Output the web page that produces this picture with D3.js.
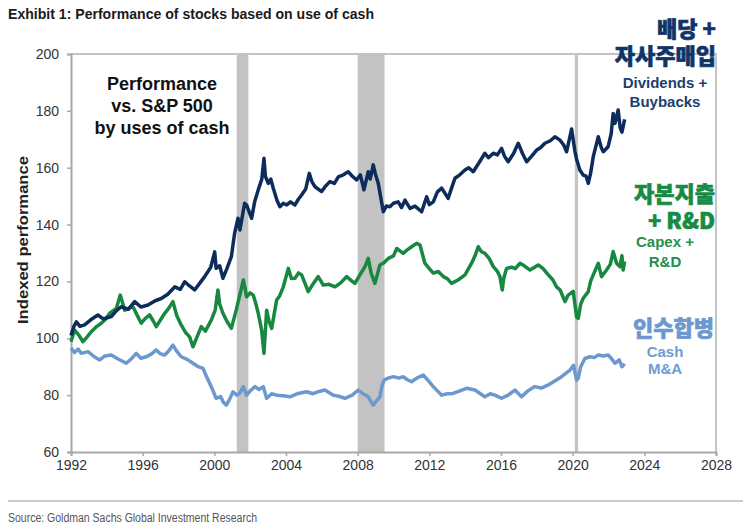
<!DOCTYPE html>
<html>
<head>
<meta charset="utf-8">
<script src="https://cdn.jsdelivr.net/npm/d3@7"></script>
<style>
  body { margin: 0; background: #fff; }
  svg { display: block; font-family: "Liberation Sans", Arial, sans-serif; }
</style>
</head>
<body>
<div id="chart"></div>
<script>
// Indexed performance vs. S&P 500 as [year, value]
const dividendsBuybacks = [
  [1992.0, 101], [1992.15, 104], [1992.3, 105.8], [1992.5, 104.2], [1992.76, 104.7], [1993.1, 106.5],
  [1993.5, 108.2], [1993.8, 106.8], [1994.25, 107.6], [1994.5, 109.5], [1994.8, 111.1], [1995.2, 110.2],
  [1995.55, 112.9], [1995.9, 111], [1996.3, 111.7], [1996.7, 113.2], [1997.04, 114.0], [1997.4, 115.5],
  [1997.8, 118.1], [1998.1, 117.2], [1998.35, 119.9], [1998.6, 118.5], [1998.9, 117.0], [1999.2, 119.5],
  [1999.46, 121.7], [1999.8, 125], [2000.02, 130.4], [2000.1, 124.6], [2000.3, 125.5], [2000.48, 121.1],
  [2000.7, 124.5], [2000.95, 128.7], [2001.13, 136.9], [2001.32, 142.2], [2001.43, 138.1], [2001.69, 147.5],
  [2001.8, 146.9], [2002.08, 142.2], [2002.25, 148], [2002.45, 152.2], [2002.65, 156], [2002.77, 163.3],
  [2002.85, 157], [2003.01, 154.5], [2003.15, 156], [2003.29, 152.8], [2003.5, 148.5], [2003.66, 146.3],
  [2003.85, 147.5], [2004.04, 146.9], [2004.25, 148], [2004.5, 146.9], [2004.7, 149], [2004.87, 150.4],
  [2005.1, 152.5], [2005.3, 158.0], [2005.45, 155], [2005.62, 153.3], [2005.99, 151.6], [2006.2, 153.5],
  [2006.45, 155.1], [2006.7, 154.5], [2006.92, 156.8], [2007.2, 157.5], [2007.47, 158.6], [2007.7, 157],
  [2007.94, 155.7], [2008.15, 157.5], [2008.35, 152.2], [2008.59, 158.6], [2008.7, 156], [2008.87, 161.0],
  [2009.0, 157.5], [2009.15, 154.5], [2009.43, 144.5], [2009.6, 146.5], [2009.8, 146.3], [2010.0, 147.5],
  [2010.26, 148.0], [2010.45, 146], [2010.64, 148.6], [2010.92, 145.7], [2011.2, 146.5], [2011.57, 144.5],
  [2011.85, 149.8], [2012.0, 147], [2012.22, 148.0], [2012.45, 151.5], [2012.69, 152.8], [2013.05, 149.2],
  [2013.25, 153], [2013.43, 156.3], [2013.7, 157.5], [2013.99, 159.2], [2014.2, 160], [2014.45, 158.6],
  [2014.8, 162], [2015.1, 165.1], [2015.3, 163.5], [2015.57, 165.1], [2015.8, 164.5], [2016.03, 166.8],
  [2016.2, 164], [2016.4, 162.1], [2016.7, 165], [2016.96, 168.6], [2017.2, 165], [2017.43, 162.1],
  [2017.7, 164], [2017.99, 166.2], [2018.2, 167], [2018.45, 168.6], [2018.75, 169.5], [2019.01, 170.9],
  [2019.29, 169.7], [2019.5, 168], [2019.66, 165.6], [2019.94, 173.6], [2020.13, 165.6], [2020.22, 163],
  [2020.4, 159.2], [2020.59, 157.4], [2020.75, 157], [2020.87, 154.5], [2021.0, 158], [2021.15, 163.9],
  [2021.43, 170.9], [2021.6, 167], [2021.71, 165.6], [2021.98, 167.4], [2022.15, 172], [2022.26, 179.1],
  [2022.36, 175.6], [2022.54, 180.3], [2022.65, 174], [2022.75, 172.5], [2022.9, 177]
];

const capexRnd = [
  [1992.0, 98.8], [1992.2, 102.9], [1992.45, 101], [1992.67, 98.8], [1992.9, 100.5], [1993.13, 102.3],
  [1993.4, 104], [1993.69, 105.3], [1993.9, 106.5], [1994.16, 108.8], [1994.53, 110.5], [1994.75, 115.2],
  [1995.0, 109.9], [1995.2, 110.5], [1995.46, 111.1], [1995.7, 108], [1995.92, 105.3], [1996.15, 107],
  [1996.39, 108.2], [1996.6, 106], [1996.76, 104.1], [1997.0, 106.5], [1997.23, 108.8], [1997.45, 110.5],
  [1997.69, 112.9], [1997.9, 108], [1998.15, 104.7], [1998.4, 102], [1998.62, 100.5], [1998.81, 97.0],
  [1999.0, 100], [1999.27, 104.1], [1999.5, 102.5], [1999.83, 106.4], [2000.05, 110], [2000.2, 117.0],
  [2000.3, 112], [2000.48, 108.8], [2000.7, 106], [2000.95, 103.5], [2001.22, 109.9], [2001.45, 116],
  [2001.62, 120.5], [2001.8, 114.6], [2002.0, 116], [2002.17, 115.2], [2002.3, 112.5], [2002.45, 108.8],
  [2002.64, 102.9], [2002.77, 94.7], [2002.92, 109.9], [2003.05, 106], [2003.2, 103.5], [2003.48, 113.5],
  [2003.65, 115], [2003.85, 118.1], [2004.13, 124.6], [2004.3, 121], [2004.5, 121.1], [2004.7, 123],
  [2004.87, 122.3], [2005.05, 119.5], [2005.24, 116.4], [2005.5, 119], [2005.8, 121.7], [2006.08, 118.7],
  [2006.4, 119], [2006.73, 118.1], [2007.05, 119.5], [2007.39, 121.7], [2007.6, 120.5], [2007.85, 119.3],
  [2008.1, 122], [2008.41, 125.2], [2008.59, 128.1], [2008.75, 123], [2008.96, 119.3], [2009.24, 125.8],
  [2009.45, 126.5], [2009.71, 128.1], [2010.0, 129], [2010.18, 131.6], [2010.54, 129.9], [2010.75, 131],
  [2011.01, 132.2], [2011.29, 133.4], [2011.48, 132.8], [2011.75, 126.4], [2012.0, 124.5], [2012.22, 122.9],
  [2012.5, 123.5], [2012.78, 121.7], [2013.0, 121], [2013.24, 119.3], [2013.6, 120.5], [2013.99, 122.3],
  [2014.36, 126.4], [2014.55, 129], [2014.73, 132.2], [2014.9, 130.5], [2015.1, 129.9], [2015.35, 128],
  [2015.57, 125.2], [2015.8, 123.5], [2015.94, 121.7], [2016.07, 117.0], [2016.15, 121], [2016.31, 124.6],
  [2016.6, 125], [2016.8, 124.5], [2017.06, 126.4], [2017.3, 125.5], [2017.62, 124.0], [2018.08, 125.8],
  [2018.35, 124.5], [2018.64, 122.3], [2018.9, 120.5], [2019.1, 118.1], [2019.3, 117.0], [2019.57, 112.9],
  [2019.75, 115.2], [2020.03, 116.5], [2020.22, 107.5], [2020.31, 107.0], [2020.45, 112], [2020.59, 114.1],
  [2020.87, 116.4], [2021.0, 120], [2021.15, 122.3], [2021.43, 126.4], [2021.61, 121.7], [2021.89, 124.0],
  [2022.1, 126], [2022.26, 130.5], [2022.45, 126.4], [2022.64, 125.2], [2022.75, 129], [2022.82, 124],
  [2022.9, 127]
];

const cashMna = [
  [1992.0, 96.5], [1992.2, 95], [1992.4, 96.2], [1992.57, 94.7], [1992.95, 95.3], [1993.3, 93.5],
  [1993.6, 92.4], [1993.9, 93.8], [1994.25, 94.1], [1994.6, 92.8], [1995.09, 91.2], [1995.4, 93],
  [1995.64, 94.7], [1995.9, 93], [1996.2, 93.5], [1996.5, 94.5], [1996.76, 95.9], [1997.0, 94.5],
  [1997.23, 94.1], [1997.45, 95.5], [1997.69, 97.6], [1997.9, 95.5], [1998.15, 93.5], [1998.5, 92.5],
  [1998.81, 91.2], [1999.1, 90], [1999.37, 89.4], [1999.6, 86], [1999.83, 83.0], [2000.1, 78.9],
  [2000.35, 79.5], [2000.5, 77.5], [2000.67, 76.5], [2000.85, 78.5], [2001.04, 81.2], [2001.25, 80],
  [2001.41, 80.6], [2001.62, 83.0], [2001.8, 80.0], [2002.0, 81.5], [2002.27, 83.0], [2002.5, 82],
  [2002.73, 83.0], [2002.92, 78.9], [2003.2, 80.5], [2003.48, 80.0], [2003.85, 79.8], [2004.22, 79.4],
  [2004.68, 80.6], [2005.15, 81.2], [2005.5, 80.5], [2005.8, 81.2], [2006.17, 81.8], [2006.64, 80.0],
  [2007.0, 79.5], [2007.29, 78.9], [2007.7, 80], [2008.03, 81.8], [2008.3, 80.5], [2008.59, 79.4],
  [2008.87, 76.5], [2009.05, 78], [2009.24, 79.4], [2009.35, 83], [2009.47, 85.3], [2009.7, 86],
  [2009.99, 86.5], [2010.3, 86], [2010.54, 86.5], [2010.75, 85.5], [2011.01, 84.7], [2011.3, 86],
  [2011.66, 87.1], [2011.95, 85], [2012.22, 83.0], [2012.45, 81.5], [2012.69, 80.0], [2013.0, 80.5],
  [2013.33, 80.6], [2013.7, 81.5], [2014.08, 82.4], [2014.55, 81.8], [2014.85, 80.5], [2015.1, 79.4],
  [2015.4, 80.5], [2015.66, 80.0], [2016.03, 78.9], [2016.4, 80], [2016.78, 81.8], [2017.15, 79.4],
  [2017.5, 81.5], [2017.89, 83.0], [2018.25, 82.5], [2018.64, 83.6], [2019.0, 85], [2019.38, 86.5],
  [2019.85, 88.8], [2020.05, 90.5], [2020.22, 85.3], [2020.31, 86], [2020.45, 90], [2020.68, 92.9],
  [2020.96, 93.5], [2021.2, 93.2], [2021.43, 94.1], [2021.7, 93.8], [2021.98, 94.1], [2022.15, 93],
  [2022.36, 91.2], [2022.6, 92.4], [2022.75, 90], [2022.9, 91]
];

// shaded recession periods
const recessions = [[2001.25, 2001.9], [2008.0, 2009.5], [2020.12, 2020.3]];

const xTicks = [1992, 1996, 2000, 2004, 2008, 2012, 2016, 2020, 2024, 2028];
const yTicks = [60, 80, 100, 120, 140, 160, 180, 200];

const width = 743, height = 529;
const plot = { left: 71, right: 716, top: 54, bottom: 452 };

const svg = d3.select("#chart").append("svg")
    .attr("width", width)
    .attr("height", height);

const x = d3.scaleLinear().domain([1992, 2028]).range([plot.left, plot.right]);
const y = d3.scaleLinear().domain([60, 200]).range([plot.bottom, plot.top]);

// title
svg.append("text")
    .attr("x", 8).attr("y", 19)
    .attr("textLength", 366).attr("lengthAdjust", "spacingAndGlyphs")
    .style("font-family", "'Liberation Sans Narrow', 'Liberation Sans', sans-serif")
    .style("font-weight", "bold").style("font-size", "15px").style("fill", "#1a1a1a")
    .text("Exhibit 1: Performance of stocks based on use of cash");

// recession bands
svg.append("g").selectAll("rect")
    .data(recessions)
    .join("rect")
    .attr("x", d => x(d[0]))
    .attr("width", d => Math.max(2.5, x(d[1]) - x(d[0])))
    .attr("y", plot.top)
    .attr("height", plot.bottom - plot.top)
    .attr("fill", "#c3c3c3");

// frame (top and right)
svg.append("path")
    .attr("d", `M${plot.left},${plot.top}H${plot.right}V${plot.bottom}`)
    .attr("fill", "none").attr("stroke", "#c4c4c4").attr("stroke-width", 2);

// axes
const yAxis = svg.append("g")
    .attr("transform", `translate(${plot.left},0)`)
    .call(d3.axisLeft(y).tickValues(yTicks).tickSize(4).tickPadding(8));
const xAxis = svg.append("g")
    .attr("transform", `translate(0,${plot.bottom})`)
    .call(d3.axisBottom(x).tickValues(xTicks).tickFormat(d3.format("d")).tickSize(4).tickPadding(4));

[yAxis, xAxis].forEach(a => {
    a.select(".domain").attr("stroke", "#a8a8a8").attr("stroke-width", 2);
    a.selectAll(".tick line").attr("stroke", "#a8a8a8").attr("stroke-width", 1.5);
    a.selectAll(".tick text")
        .style("font-family", "'Liberation Sans', Arial, sans-serif")
        .style("font-size", "14px").style("fill", "#333");
});

svg.append("text")
    .attr("transform", "translate(28,240) rotate(-90)")
    .attr("text-anchor", "middle")
    .attr("textLength", 168).attr("lengthAdjust", "spacingAndGlyphs")
    .style("font-weight", "bold").style("font-size", "14px").style("fill", "#222")
    .text("Indexed performance");

// series lines
const line = d3.line().x(d => x(d[0])).y(d => y(d[1]));
const series = [
    { data: cashMna, color: "#6c98d0" },
    { data: capexRnd, color: "#17883f" },
    { data: dividendsBuybacks, color: "#0d2c5c" }
];
svg.append("g").selectAll("path")
    .data(series)
    .join("path")
    .attr("d", d => line(d.data))
    .attr("fill", "none")
    .attr("stroke", d => d.color)
    .attr("stroke-width", 3.5)
    .attr("stroke-linejoin", "round");

// multi-line text helper: one <text> per block, one <tspan> per line
function block(g, b) {
    const t = g.append("text")
        .attr("text-anchor", b.anchor)
        .style("font-family", b.cjk ? "'Noto Sans CJK KR', sans-serif" : "'Liberation Sans', Arial, sans-serif")
        .style("font-weight", b.cjk ? 900 : "bold")
        .style("font-size", b.size + "px")
        .style("fill", b.color);
    if (b.cjk) t.style("stroke", b.color).style("stroke-width", 0.6);
    b.lines.forEach((s, i) => {
        t.append("tspan").attr("x", b.x).attr("y", b.y + i * b.gap).text(s);
    });
}

const labelGroup = svg.append("g");

// in-chart caption
block(labelGroup, { lines: ["Performance", "vs. S&P 500", "by uses of cash"],
    x: 162, y: 90, gap: 22, size: 18, anchor: "middle", color: "#111" });

// series labels (Korean + English)
const labels = [
    { lines: ["배당 +", "자사주매입"], x: 716, y: 37, gap: 27, size: 22, anchor: "end", color: "#0f3466", cjk: true },
    { lines: ["Dividends +", "Buybacks"], x: 665, y: 88, gap: 19, size: 15, anchor: "middle", color: "#1b3f70" },
    { lines: ["자본지출", "+ R&D"], x: 715, y: 202, gap: 27, size: 22, anchor: "end", color: "#178a43", cjk: true },
    { lines: ["Capex +", "R&D"], x: 665, y: 247, gap: 20, size: 15, anchor: "middle", color: "#23904c" },
    { lines: ["인수합병"], x: 714, y: 336, gap: 0, size: 22, anchor: "end", color: "#6b98d0", cjk: true },
    { lines: ["Cash", "M&A"], x: 665, y: 357, gap: 17, size: 15, anchor: "middle", color: "#6f9bd2" }
];
labels.forEach(b => block(labelGroup, b));

// footer
svg.append("line")
    .attr("x1", 8).attr("x2", 743).attr("y1", 501).attr("y2", 501)
    .attr("stroke", "#bdbdbd").attr("stroke-width", 1.5);
svg.append("text")
    .attr("x", 8).attr("y", 522)
    .attr("textLength", 249).attr("lengthAdjust", "spacingAndGlyphs")
    .style("font-family", "'Liberation Sans Narrow', 'Liberation Sans', sans-serif")
    .style("font-size", "12px").style("fill", "#555")
    .text("Source: Goldman Sachs Global Investment Research");
</script>
</body>
</html>
